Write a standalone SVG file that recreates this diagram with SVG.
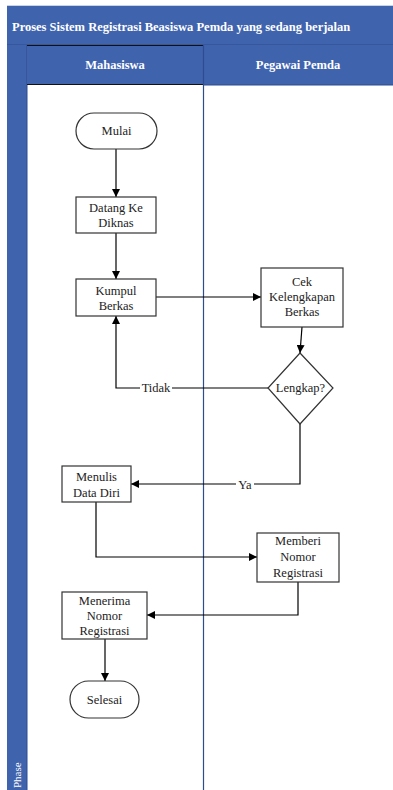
<svg xmlns="http://www.w3.org/2000/svg" width="393" height="790" viewBox="0 0 393 790">
<defs>
<style>
.t{font-family:"Liberation Serif","Times New Roman",serif;font-size:12.5px;fill:#222;text-anchor:middle}
.h{font-family:"Liberation Serif","Times New Roman",serif;font-size:12.5px;font-weight:bold;fill:#fff}
.n{fill:#fff;stroke:#333;stroke-width:1.2}
.c{fill:none;stroke:#000;stroke-width:1.2}
.lb{fill:#fff;stroke:none}
</style>
<marker id="a" viewBox="0 0 10 10" refX="10" refY="5" markerWidth="8" markerHeight="8" markerUnits="userSpaceOnUse" orient="auto">
<path d="M0,0 L10,5 L0,10 z" fill="#000"/>
</marker>
</defs>
<rect x="0" y="0" width="393" height="790" fill="#fff"/>
<g id="pool">
<rect x="7" y="5" width="386" height="40" fill="#3f63ad"/>
<line x1="7" y1="5.5" x2="393" y2="5.5" stroke="#c9d3ea" stroke-width="1"/>
<line x1="7" y1="45" x2="393" y2="45" stroke="#2e4d8f" stroke-width="1"/>
<text class="h" x="12" y="31">Proses Sistem Registrasi Beasiswa Pemda yang sedang berjalan</text>
<rect x="7" y="45" width="20" height="745" fill="#3f63ad"/>
<line x1="27" y1="45" x2="27" y2="790" stroke="#2e4d8f" stroke-width="1"/>
<text class="h" transform="translate(21,788) rotate(-90)" style="font-weight:normal;font-size:11px">Phase</text>
</g>
<g id="lane-mahasiswa">
<rect x="27" y="45" width="176" height="40" fill="#3f63ad"/>
<line x1="27" y1="45.5" x2="203" y2="45.5" stroke="#111" stroke-width="1"/>
<line x1="27" y1="84.5" x2="203" y2="84.5" stroke="#111" stroke-width="1"/>
<text class="h" x="115" y="69" text-anchor="middle">Mahasiswa</text>
</g>
<g id="lane-pegawai">
<rect x="203" y="45" width="190" height="40" fill="#3f63ad"/>
<line x1="203" y1="85" x2="393" y2="85" stroke="#2e4d8f" stroke-width="1"/>
<text class="h" x="298" y="69" text-anchor="middle">Pegawai Pemda</text>
<line x1="203.5" y1="45" x2="203.5" y2="790" stroke="#2e4d8f" stroke-width="1.2"/>
</g>
<g id="connectors">
<line class="c" x1="116" y1="149" x2="116" y2="197" marker-end="url(#a)"/>
<line class="c" x1="116" y1="233" x2="116" y2="279" marker-end="url(#a)"/>
<line class="c" x1="156" y1="297" x2="261" y2="297" marker-end="url(#a)"/>
<line class="c" x1="302" y1="327" x2="300" y2="353" marker-end="url(#a)"/>
<polyline class="c" points="268,388 116,388 116,316" marker-end="url(#a)"/>
<rect class="lb" x="140" y="381" width="32" height="14"/>
<text class="t" x="156" y="392">Tidak</text>
<polyline class="c" points="300,424 300,484 131,484" marker-end="url(#a)"/>
<rect class="lb" x="236" y="478" width="18" height="14"/>
<text class="t" x="245" y="489">Ya</text>
<polyline class="c" points="96,502 96,557 257,557" marker-end="url(#a)"/>
<polyline class="c" points="298,582 298,615 147,615" marker-end="url(#a)"/>
<line class="c" x1="105" y1="639" x2="105" y2="681" marker-end="url(#a)"/>
</g>
<g id="mulai">
<rect class="n" x="76" y="113" width="81" height="36" rx="18"/>
<text class="t" x="116.5" y="135">Mulai</text>
</g>
<g id="datang">
<rect class="n" x="76" y="197" width="80" height="36"/>
<text class="t" x="116" y="212">Datang Ke</text>
<text class="t" x="116" y="227">Diknas</text>
</g>
<g id="kumpul">
<rect class="n" x="76" y="279" width="80" height="37"/>
<text class="t" x="116" y="295">Kumpul</text>
<text class="t" x="116" y="310">Berkas</text>
</g>
<g id="cek">
<rect class="n" x="261" y="268" width="82" height="59"/>
<text class="t" x="302" y="286">Cek</text>
<text class="t" x="302" y="301">Kelengkapan</text>
<text class="t" x="302" y="316">Berkas</text>
</g>
<g id="lengkap">
<polygon class="n" points="300,353 333,388 300,424 268,388"/>
<text class="t" x="300.5" y="392">Lengkap?</text>
</g>
<g id="menulis">
<rect class="n" x="62" y="466" width="69" height="36"/>
<text class="t" x="96.5" y="481">Menulis</text>
<text class="t" x="96.5" y="497">Data Diri</text>
</g>
<g id="memberi">
<rect class="n" x="257" y="533" width="82" height="49"/>
<text class="t" x="298" y="545">Memberi</text>
<text class="t" x="298" y="561">Nomor</text>
<text class="t" x="298" y="577">Registrasi</text>
</g>
<g id="menerima">
<rect class="n" x="62" y="592" width="85" height="47"/>
<text class="t" x="104.5" y="605">Menerima</text>
<text class="t" x="104.5" y="620">Nomor</text>
<text class="t" x="104.5" y="635">Registrasi</text>
</g>
<g id="selesai">
<rect class="n" x="70" y="681" width="69" height="37" rx="18.5"/>
<text class="t" x="104.5" y="704">Selesai</text>
</g>
</svg>
